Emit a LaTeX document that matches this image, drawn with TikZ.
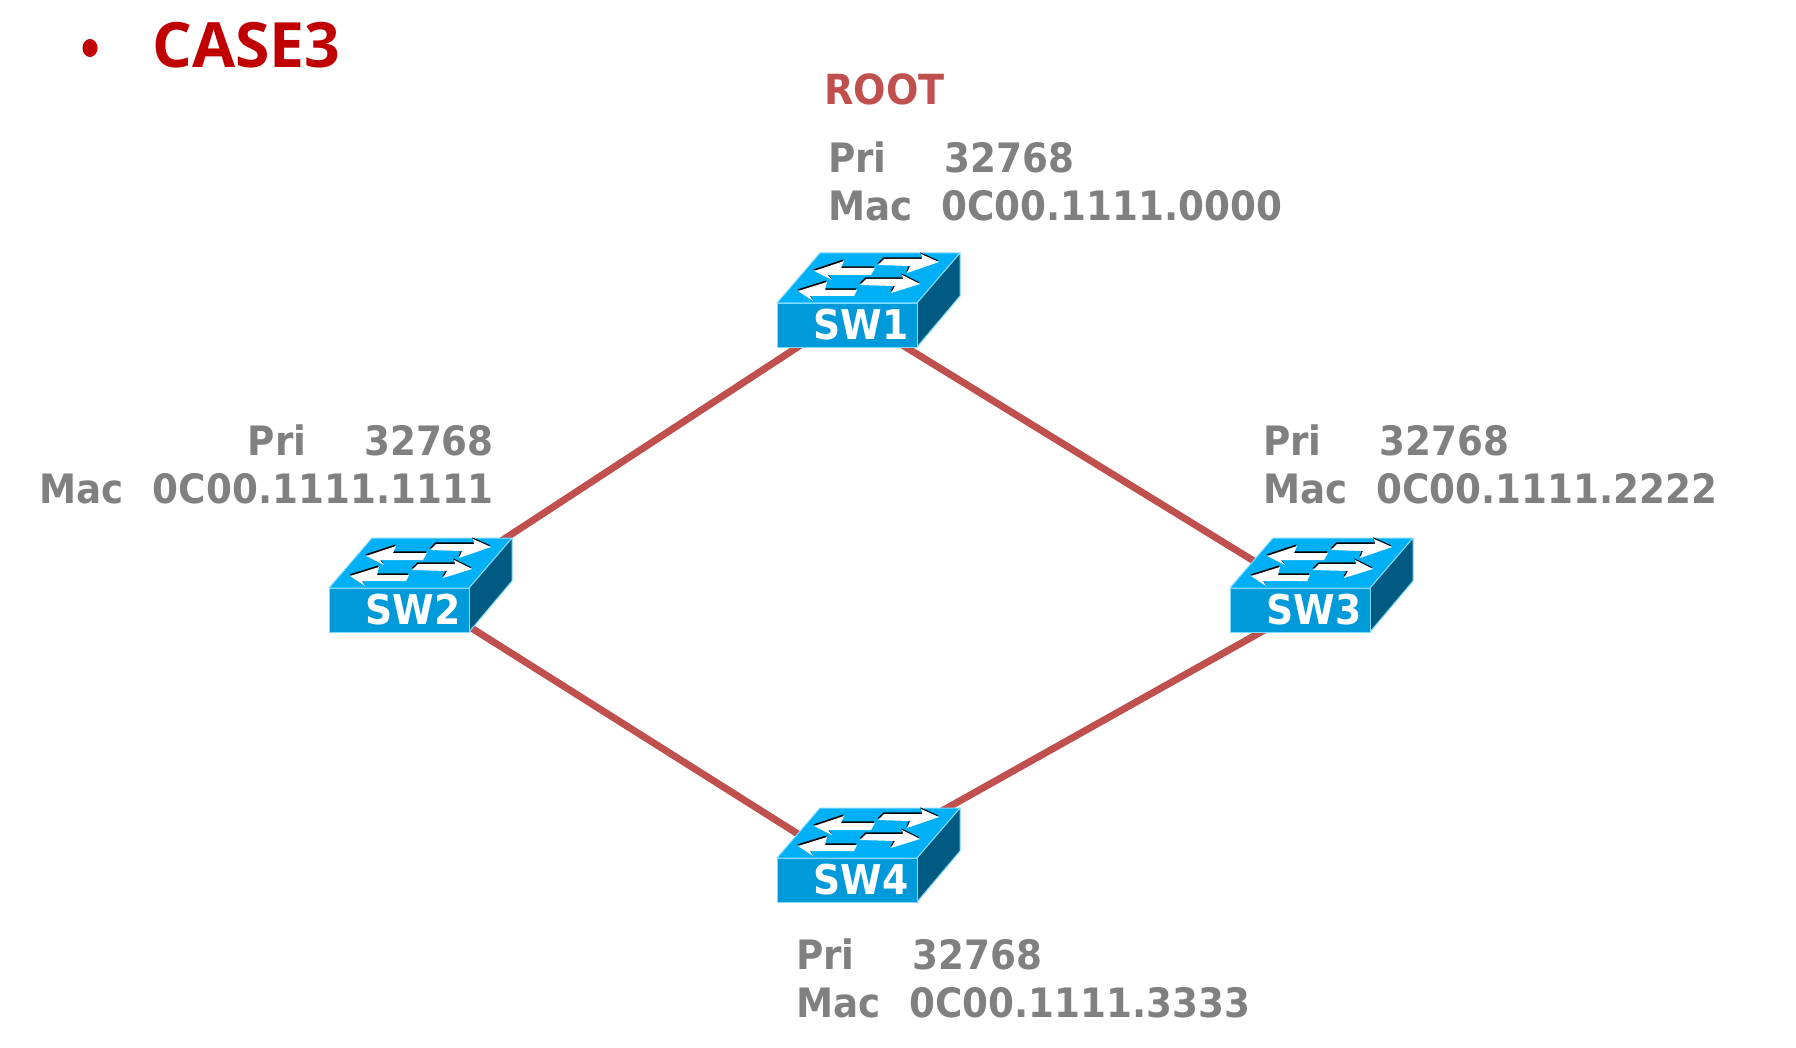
\documentclass[tikz,border=0pt]{standalone}
\usepackage{xcolor}
\usepackage{fontspec}
\usetikzlibrary{calc,backgrounds,shapes.geometric}
\setmainfont{DejaVu Sans Bold}[FakeStretch=0.92]
\newfontfamily\titlefont{Open Sans}[BoldFont={* Bold}]
\definecolor{trunkred}{HTML}{C0504D}
\definecolor{infogray}{HTML}{808080}
\definecolor{casered}{HTML}{C00000}
\definecolor{swfront}{HTML}{0099D9}
\definecolor{swtop}{HTML}{00B0F6}
\definecolor{swside}{HTML}{005A82}
\definecolor{swedge}{HTML}{7FDBFF}
\tikzset{>=stealth,
    trunk/.style={trunkred,line width=7pt},
    info/.style={infogray,inner sep=0pt,font=\fontsize{40.5}{48}\selectfont},
    swarrow/.style={fill=white,preaction={fill=black,transform canvas={xshift=-0.6pt,yshift=1.6pt}}},
    swface/.style={draw=swedge,line width=1pt,line join=round}}

% one switch: name, x, y of the front face corner, label
\newcommand{\switchbox}[4]{
    \begin{scope}[shift={(#2,#3)}]
        \fill[swface,fill=swtop] (0,0)--(43,-50)--(183,-50)--(140,0)--cycle;
        \fill[swface,fill=swside] (140,0)--(183,-50)--(183,-7)--(140,44)--cycle;
        \path[swarrow] (37,-32)--(67,-42)--(64,-35)--(98,-35)--(94,-28)--(51,-28)--(55,-23)--cycle;
        \path[swarrow] (21,-12)--(50,-21)--(48,-13)--(80,-13)--(77,-7)--(33,-7)--(36,-2)--cycle;
        \path[swarrow] (101,-38)--(107,-44)--(145,-44)--(144,-49)--(162,-41)--(130,-30)--(133,-37)--cycle;
        \path[swarrow] (83,-18)--(89,-24)--(126,-24)--(125,-28)--(143,-19)--(114,-10)--(118,-17)--cycle;
        \node[swface,fill=swfront,anchor=north west,minimum width=140pt,minimum height=44pt,inner sep=0pt,
            text=white,font=\fontsize{41}{41}\selectfont] (#1) at (0,0) {\hspace*{27pt}\raisebox{3pt}{#4}};
    \end{scope}
}

\begin{document}
\begin{tikzpicture}[x=1pt,y=-1pt]
        \useasboundingbox (0,0) rectangle (1796,1048);

        \switchbox{sw1}{777}{303}{SW1}
        \switchbox{sw2}{329}{588}{SW2}
        \switchbox{sw3}{1230}{588}{SW3}
        \switchbox{sw4}{777}{858}{SW4}

        \begin{pgfonlayer}{background}
        \draw[trunk] ($(sw1)+(3,-13)$)--($(sw2)+(81,-56)$);
        \draw[trunk] ($(sw1)+(23,0)$)--($(sw3)+(-10,-27)$);
        \draw[trunk] ($(sw2)+(41,-2)$)--($(sw4)+(-17,-26)$);
        \draw[trunk] ($(sw3)+(-10,5)$)--($(sw4)+(63,-52)$);
        \end{pgfonlayer}

        \node[ellipse,fill=casered,inner sep=0pt,minimum width=15pt,minimum height=18pt] (dot) at (90,48) {};
        \node[casered,inner sep=0pt,anchor=base west,font=\titlefont\bfseries\fontsize{62.5}{62.5}\selectfont] (title) at (152,68) {CASE3};
        \node[trunkred,inner sep=0pt,anchor=base west,font=\fontsize{41.5}{41.5}\selectfont] (root) at (824,105) {ROOT};

        \node[info,anchor=base west,align=left] (info1) at (828,221) {Pri\hspace{58pt}32768\\Mac\hspace{29pt}0C00.1111.0000};
        \node[info,anchor=base east,align=right] (info2) at (494,503) {Pri\hspace{58pt}32768\\Mac\hspace{29pt}0C00.1111.1111};
        \node[info,anchor=base west,align=left] (info3) at (1263,503) {Pri\hspace{58pt}32768\\Mac\hspace{29pt}0C00.1111.2222};
        \node[info,anchor=base west,align=left] (info4) at (796,1017) {Pri\hspace{58pt}32768\\Mac\hspace{29pt}0C00.1111.3333};
\end{tikzpicture}
\end{document}
